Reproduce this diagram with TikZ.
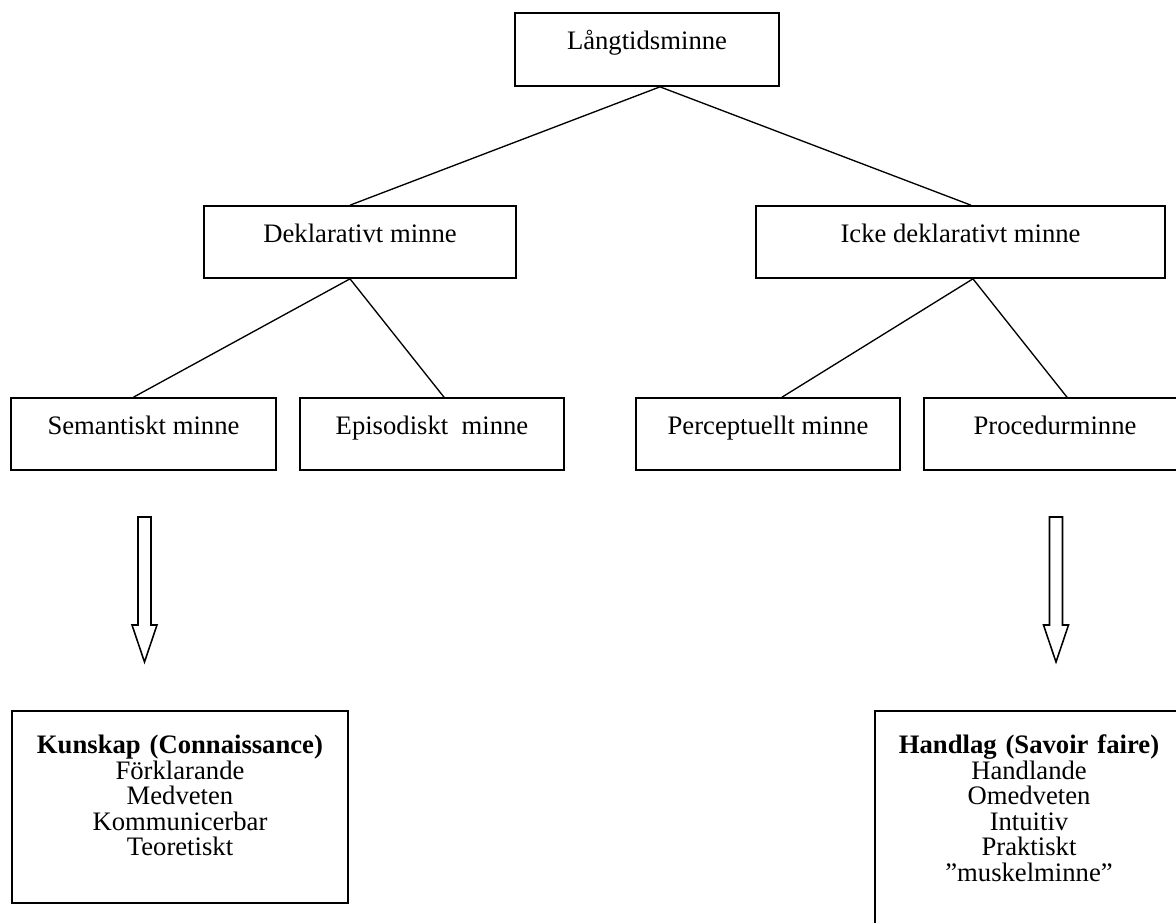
\documentclass[tikz,border=0pt]{standalone}
\usepackage{fontspec}
\setmainfont{Liberation Serif}
\usetikzlibrary{positioning}
\newcommand{\pxu}{0.45pt}
\setlength{\lineskiplimit}{-20pt}
\tikzset{
  memorybox/.style={draw,line width=0.75pt,inner sep=0pt,minimum height=72*\pxu,
    text height=6pt,text depth=6pt,font=\fontsize{12}{11.5}\selectfont},
  listbox/.style={draw,line width=0.75pt,anchor=north,align=center,text width=130pt,
    inner xsep=3pt,inner ysep=24*\pxu,text height=8.5pt,font=\fontsize{12}{11.5}\selectfont},
  branch/.style={line width=0.6pt},
  hollowarrow/.style={draw,line width=0.7pt,line join=miter}
}
\begin{document}
\begin{tikzpicture}[x=\pxu,y=-\pxu]
  \useasboundingbox (0,0) rectangle (1176,922);
  \clip (0,0) rectangle (1176,922);
  % top level
  \node[memorybox,minimum width=264*\pxu,minimum height=73*\pxu] (ltm) at (647,49.5) {Långtidsminne};
  % second level
  \node[memorybox,minimum width=312*\pxu] (dekl) at (360,242) {Deklarativt minne};
  \node[memorybox,minimum width=409*\pxu] (icke) at (960.5,242) {Icke deklarativt minne};
  % third level
  \node[memorybox,minimum width=265*\pxu] (sem) at (143.5,434) {Semantiskt minne};
  \node[memorybox,minimum width=264*\pxu] (epi) at (432,434) {Episodiskt~~minne};
  \node[memorybox,minimum width=264*\pxu] (perc) at (768,434) {Perceptuellt minne};
  \node[memorybox,minimum width=262*\pxu] (proc) at (1055,434) {Procedurminne};
  % branches
  \draw[branch] ([xshift=5.85pt]ltm.south) -- ([xshift=-4.5pt]dekl.north);
  \draw[branch] ([xshift=5.85pt]ltm.south) -- ([xshift=4.7pt]icke.north);
  \draw[branch] ([xshift=-4.5pt]dekl.south) -- ([xshift=-4.5pt]sem.north);
  \draw[branch] ([xshift=-4.5pt]dekl.south) -- ([xshift=5.4pt]epi.north);
  \draw[branch] ([xshift=5.6pt]icke.south) -- ([xshift=6.3pt]perc.north);
  \draw[branch] ([xshift=5.6pt]icke.south) -- ([xshift=5.4pt]proc.north);
  % hollow arrows down to the summaries
  \foreach \ax in {144.5,1056}
    \draw[hollowarrow] (\ax-6.5,517) -- (\ax+6.5,517) -- (\ax+6.5,625) -- (\ax+12.5,625)
      -- (\ax,662) -- (\ax-12.5,625) -- (\ax-6.5,625) -- cycle;
  % summaries
  \node[listbox,minimum width=336*\pxu,text depth=56.25pt] (kunskap) at (180,710)
    {\textbf{Kunskap (Connaissance)}\\Förklarande\\Medveten\\Kommunicerbar\\Teoretiskt};
  \node[listbox,minimum width=308*\pxu,text depth=66.6pt] (handlag) at (1029,710)
    {\textbf{Handlag (Savoir faire)}\\Handlande\\Omedveten\\Intuitiv\\Praktiskt\\”muskelminne”};
\end{tikzpicture}
\end{document}
